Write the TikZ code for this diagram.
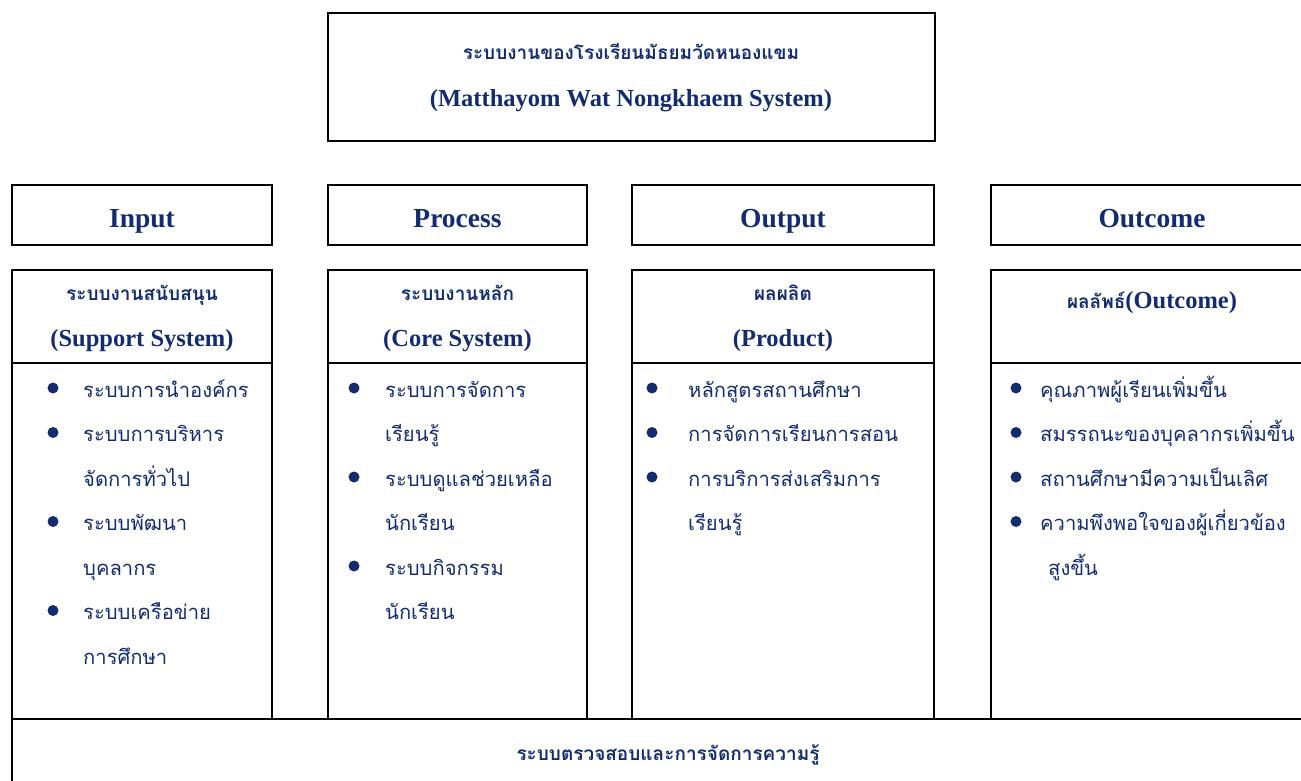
\documentclass[tikz,border=0pt]{standalone}
\usepackage{fontspec}
\setmainfont{Liberation Serif}
\newfontfamily\thaifont[Script=Thai]{Loma}
\usepackage{tikz}
\definecolor{navy}{RGB}{18,44,110}

\begin{document}
\begin{tikzpicture}[x=1pt,y=-1pt]
\tikzstyle{frame}=[draw=black, line width=2.6pt]
\tikzstyle{head}=[text=navy, font=\fontsize{27.5}{30}\selectfont\bfseries, anchor=base, inner sep=0]
\tikzstyle{sub}=[text=navy, font=\fontsize{24.5}{28}\selectfont\bfseries, anchor=base, inner sep=0]
\tikzstyle{thaihead}=[text=navy, font=\thaifont\fontsize{19}{21}\selectfont\bfseries, anchor=base, inner sep=0]
\tikzstyle{item}=[text=navy, font=\thaifont\fontsize{20.2}{22}\selectfont, anchor=base west, inner sep=0]
\tikzstyle{dot}=[circle, fill=navy, inner sep=0, minimum size=11pt]

\useasboundingbox (0,0) rectangle (1301,781);
\clip (0,0) rectangle (1301,781);

% frames
\draw[frame] (328,13) rectangle (935,141);
\draw[frame] (12,185) rectangle (272,245);
\draw[frame] (328,185) rectangle (587,245);
\draw[frame] (632,185) rectangle (934,245);
\draw[frame] (991,185) rectangle (1313,245);
\draw[frame] (12,270) rectangle (272,719);
\draw[frame] (328,270) rectangle (587,719);
\draw[frame] (632,270) rectangle (934,719);
\draw[frame] (991,270) rectangle (1313,719);
\draw[frame] (12,363) -- (272,363);
\draw[frame] (328,363) -- (587,363);
\draw[frame] (632,363) -- (934,363);
\draw[frame] (991,363) -- (1313,363);
\draw[frame] (12,719) rectangle (1330,800);

% titles
\node (school) at (631,60) [thaihead] {ระบบงานของโรงเรียนมัธยมวัดหนองแขม};
\node (system) at (631,107) [sub] {(Matthayom Wat Nongkhaem System)};
\node (input) at (142,227) [head] {Input};
\node (process) at (457.5,227) [head] {Process};
\node (output) at (783,227) [head] {Output};
\node (outcome) at (1152,227) [head] {Outcome};

\node (support) at (142,300) [thaihead] {ระบบงานสนับสนุน};
\node (supporten) at (142,346) [sub] {(Support System)};
\node (core) at (457.5,300) [thaihead] {ระบบงานหลัก};
\node (coreen) at (457.5,346) [sub] {(Core System)};
\node (product) at (783,300) [thaihead] {ผลผลิต};
\node (producten) at (783,346) [sub] {(Product)};
\node (result) at (1152,308) [sub] {{\thaifont\fontsize{19}{21}\selectfont ผลลัพธ์}(Outcome)};

% input items
\node (i1) at (53,388) [dot] {};
\node (i2) at (53,432.5) [dot] {};
\node (i3) at (53,521.5) [dot] {};
\node (i4) at (53,610.5) [dot] {};
\node (i1a) at (83,397) [item] {ระบบการนำองค์กร};
\node (i2a) at (83,441.5) [item] {ระบบการบริหาร};
\node (i2b) at (83,486) [item] {จัดการทั่วไป};
\node (i3a) at (83,530.5) [item] {ระบบพัฒนา};
\node (i3b) at (83,575) [item] {บุคลากร};
\node (i4a) at (83,619.5) [item] {ระบบเครือข่าย};
\node (i4b) at (83,664) [item] {การศึกษา};

% process items
\node (p1) at (354,388) [dot] {};
\node (p2) at (354,477) [dot] {};
\node (p3) at (354,566) [dot] {};
\node (p1a) at (385,397) [item] {ระบบการจัดการ};
\node (p1b) at (385,441.5) [item] {เรียนรู้};
\node (p2a) at (385,486) [item] {ระบบดูแลช่วยเหลือ};
\node (p2b) at (385,530.5) [item] {นักเรียน};
\node (p3a) at (385,575) [item] {ระบบกิจกรรม};
\node (p3b) at (385,619.5) [item] {นักเรียน};

% output items
\node (o1) at (652,388) [dot] {};
\node (o2) at (652,432.5) [dot] {};
\node (o3) at (652,477) [dot] {};
\node (o1a) at (688,397) [item] {หลักสูตรสถานศึกษา};
\node (o2a) at (688,441.5) [item] {การจัดการเรียนการสอน};
\node (o3a) at (688,486) [item] {การบริการส่งเสริมการ};
\node (o3b) at (688,530.5) [item] {เรียนรู้};

% outcome items
\node (r1) at (1016,388) [dot] {};
\node (r2) at (1016,432.5) [dot] {};
\node (r3) at (1016,477) [dot] {};
\node (r4) at (1016,521.5) [dot] {};
\node (r1a) at (1040,397) [item] {คุณภาพผู้เรียนเพิ่มขึ้น};
\node (r2a) at (1040,441.5) [item] {สมรรถนะของบุคลากรเพิ่มขึ้น};
\node (r3a) at (1040,486) [item] {สถานศึกษามีความเป็นเลิศ};
\node (r4a) at (1040,530.5) [item] {ความพึงพอใจของผู้เกี่ยวข้อง};
\node (r4b) at (1048,575) [item] {สูงขึ้น};

\node (check) at (668,760) [thaihead] {ระบบตรวจสอบและการจัดการความรู้};
\end{tikzpicture}
\end{document}
